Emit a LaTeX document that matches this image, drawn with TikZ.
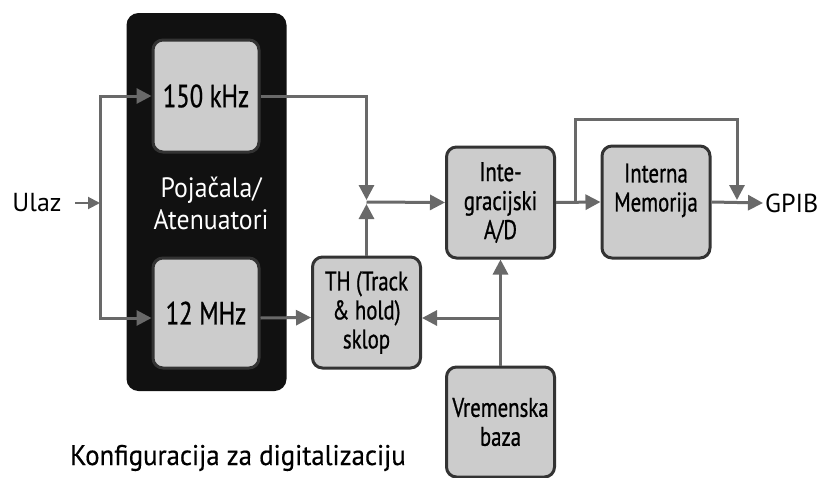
\documentclass[tikz,border=0pt]{standalone}
\usepackage{fontspec}
\setmainfont{PT Sans}
\newfontfamily\narrowfont[FakeStretch=0.77,FakeBold=0.8]{PT Sans}
\newfontfamily\ampfam[FakeStretch=0.92]{PT Sans}
\newfontfamily\capfam[FakeStretch=0.94,FakeBold=0.4]{PT Sans}
\newcommand\boxfont{\narrowfont\fontsize{27}{29}\selectfont}
\newcommand\freqfont{\narrowfont\fontsize{32}{34}\selectfont}
\newcommand\ampfont{\ampfam\fontsize{28}{32}\selectfont}
\newcommand\capfont{\capfam\fontsize{28.5}{30}\selectfont}
\usetikzlibrary{arrows.meta,positioning}
\definecolor{boxfill}{HTML}{CCCCCC}
\definecolor{boxline}{HTML}{333333}
\definecolor{wireclr}{HTML}{696969}
\definecolor{ampblack}{HTML}{111111}

\begin{document}
\begin{tikzpicture}[x=1pt,y=-1pt,
  box/.style={draw=boxline,fill=boxfill,line width=3pt,rounded corners=10pt,align=center,inner sep=0pt,font=\boxfont},
  wire/.style={draw=wireclr,line width=3pt},
  inarrow/.style={draw=wireclr,line width=2pt,-{Triangle[length=12pt,width=12pt]}},
  >={Triangle[length=15pt,width=15pt]}]
\useasboundingbox (0,0) rectangle (825,477);
% amplifier / attenuator block
\node[fill=ampblack,rounded corners=12pt,minimum width=160pt,minimum height=378pt] (AMP) at (206.5,202) {};
\node[box,font=\freqfont,minimum width=106pt,minimum height=112pt] (F150) at (206,96) {150 kHz};
\node[box,font=\freqfont,minimum width=106pt,minimum height=110pt] (F12) at (206,313) {12 MHz};
\node[white,font=\ampfont,align=center] (AMPL) at (211,203) {Pojačala/\\Atenuatori};
% processing chain
\node[box,minimum width=108pt,minimum height=111pt] (TH) at (366.5,312.5) {TH (Track\\\& hold)\\sklop};
\node[box,minimum width=108pt,minimum height=111pt] (INTEG) at (500.5,202.5) {Inte-\\gracijski\\A/D};
\node[box,minimum width=108pt,minimum height=112pt] (MEM) at (656,202) {Interna\\Memorija\\\mbox{}};
\node[box,minimum width=108pt,minimum height=110pt] (VREM) at (500.5,422) {Vremenska\\baza};
% terminals
\node[font=\fontsize{26}{30}\selectfont] (ULAZ) at (37,203) {Ulaz};
\node[font=\fontsize{26}{30}\selectfont,inner sep=2pt,anchor=west] (GPIB) at (763,203) {GPIB};
\node[font=\capfont,anchor=base] (CAPTION) at (238,465) {Konfiguracija za digitalizaciju};
\coordinate (SPLIT) at (100,203);
\coordinate (JOIN) at (366.5,202);
\coordinate (TAP) at (500.5,318);
\coordinate (BRANCH) at (575,202);
\coordinate (OUTJ) at (737,202);
% connectors
\draw[inarrow] ([xshift=10pt]ULAZ.east) -- (SPLIT);
\draw[wire,->] (SPLIT) |- (F150);
\draw[wire,->] (SPLIT) |- ([yshift=-5pt]F12.west);
\draw[wire,->] ([yshift=-5pt]F12.east) -- ([yshift=-5pt]TH.west);
\draw[wire,->] (F150.east) -| ([yshift=2pt]JOIN);
\draw[wire,->] (TH.north) -- ([yshift=-2pt]JOIN);
\draw[wire,->] (JOIN) -- (INTEG.west);
\draw[wire,->] (VREM.north) -- (INTEG.south);
\draw[wire,->] (TAP) -- (TH.east |- TAP);
\draw[wire,->] (INTEG.east) -- (MEM.west);
\draw[wire,->] (BRANCH) -- ++(0,-83) -| ([yshift=2pt]OUTJ);
\draw[wire,->] (MEM.east) -- (GPIB.west);
\end{tikzpicture}
\end{document}
